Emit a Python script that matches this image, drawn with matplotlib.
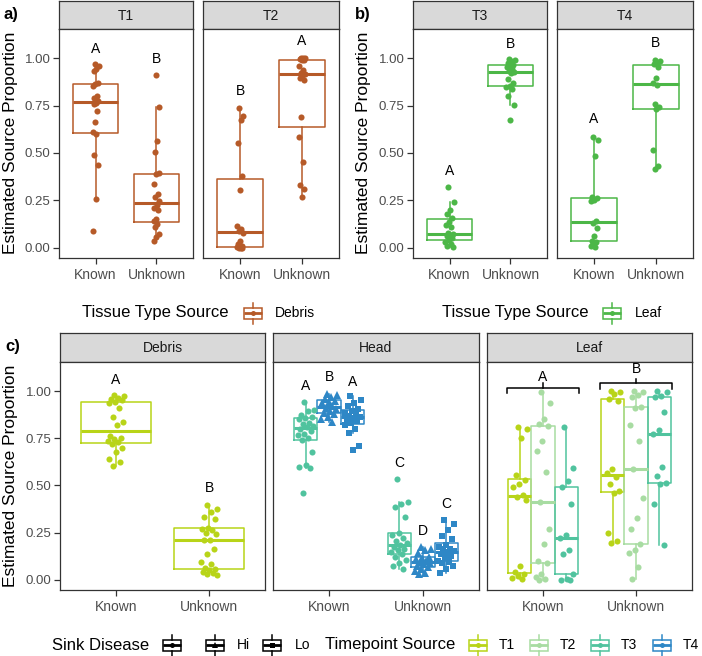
import numpy as np
import matplotlib
matplotlib.use("Agg")
import matplotlib.pyplot as plt
from matplotlib.patches import Rectangle

plt.rcParams['font.family'] = ['Liberation Sans', 'DejaVu Sans']

# ---- data ----
cats = ['Known', 'Unknown']
yticks = [0.0, 0.25, 0.5, 0.75, 1.0]

# a) debris source, T1 / T2
a_t1_known = [0.97, 0.96, 0.945, 0.935, 0.87, 0.865, 0.855, 0.80, 0.79, 0.775, 0.765, 0.76,
              0.72, 0.665, 0.61, 0.60, 0.49, 0.435, 0.255, 0.09]
a_t1_unknown = [0.91, 0.745, 0.565, 0.505, 0.395, 0.39, 0.335, 0.285, 0.265, 0.245, 0.225, 0.21,
                0.20, 0.15, 0.14, 0.125, 0.11, 0.07, 0.058, 0.035]
a_t2_known = [0.735, 0.695, 0.675, 0.55, 0.38, 0.305, 0.115, 0.10, 0.09, 0.075, 0.035, 0.02,
              0.01, 0.004, 0.002, 0.0, 0.0, 0.0]
a_t2_unknown = [1.0, 1.0, 1.0, 0.998, 0.99, 0.99, 0.96, 0.94, 0.925, 0.915, 0.905, 0.895,
                0.885, 0.69, 0.585, 0.45, 0.33, 0.31, 0.265]

# b) leaf source, T3 / T4
b_t3_known = [0.32, 0.24, 0.20, 0.18, 0.155, 0.135, 0.12, 0.11, 0.078, 0.07, 0.065, 0.06,
              0.05, 0.038, 0.03, 0.02, 0.01, 0.005]
b_t3_unknown = [0.998, 0.99, 0.985, 0.975, 0.965, 0.96, 0.955, 0.945, 0.935, 0.93, 0.92, 0.89,
                0.87, 0.855, 0.85, 0.84, 0.80, 0.755, 0.675]
b_t4_known = [0.585, 0.57, 0.485, 0.265, 0.26, 0.25, 0.245, 0.14, 0.13, 0.105, 0.06, 0.035,
              0.03, 0.02, 0.01, 0.005]
b_t4_unknown = [0.99, 0.985, 0.975, 0.97, 0.955, 0.895, 0.87, 0.86, 0.76, 0.745, 0.73, 0.515,
                0.43, 0.415]

# c) sink tissue panels
debris_known_t1 = [0.98, 0.975, 0.965, 0.96, 0.955, 0.945, 0.935, 0.91, 0.865, 0.835, 0.82, 0.76,
                   0.75, 0.745, 0.735, 0.73, 0.72, 0.70, 0.68, 0.64, 0.625, 0.605]
debris_unknown_t1 = [0.395, 0.375, 0.36, 0.33, 0.32, 0.275, 0.27, 0.265, 0.25, 0.24, 0.212, 0.21,
                     0.165, 0.135, 0.095, 0.085, 0.06, 0.055, 0.05, 0.04, 0.035, 0.03, 0.025]
head_known_t3 = [0.945, 0.90, 0.895, 0.875, 0.865, 0.86, 0.85, 0.83, 0.825, 0.815, 0.81, 0.80,
                 0.79, 0.775, 0.765, 0.75, 0.74, 0.675, 0.61, 0.60, 0.59, 0.46]
head_known_t4_hi = [0.985, 0.98, 0.97, 0.96, 0.95, 0.945, 0.935, 0.92, 0.91, 0.905, 0.895, 0.885,
                    0.88, 0.865, 0.85, 0.835]
head_known_t4_lo = [0.975, 0.955, 0.94, 0.92, 0.905, 0.895, 0.885, 0.875, 0.87, 0.865, 0.86, 0.85,
                    0.84, 0.83, 0.82, 0.80, 0.78, 0.71, 0.69]
head_unknown_t3 = [0.535, 0.41, 0.40, 0.385, 0.335, 0.25, 0.235, 0.22, 0.205, 0.195, 0.185, 0.175,
                   0.165, 0.155, 0.145, 0.135, 0.12, 0.105, 0.09, 0.07, 0.055]
head_unknown_t4_hi = [0.175, 0.16, 0.155, 0.14, 0.12, 0.115, 0.11, 0.10, 0.095, 0.09, 0.085, 0.075,
                      0.065, 0.055, 0.045, 0.035, 0.03]
head_unknown_t4_lo = [0.315, 0.295, 0.265, 0.23, 0.215, 0.185, 0.175, 0.165, 0.16, 0.15, 0.145,
                      0.135, 0.125, 0.115, 0.10, 0.095, 0.09, 0.075, 0.055, 0.035]
leaf_known_t1 = [0.81, 0.80, 0.75, 0.555, 0.53, 0.505, 0.49, 0.45, 0.44, 0.42, 0.075, 0.04, 0.03,
                 0.02, 0.01, 0.005]
leaf_known_t2 = [0.995, 0.94, 0.855, 0.825, 0.815, 0.735, 0.685, 0.57, 0.41, 0.27, 0.19, 0.10,
                 0.09, 0.03, 0.015, 0.005, 0.0]
leaf_known_t3 = [0.81, 0.595, 0.525, 0.49, 0.40, 0.235, 0.22, 0.155, 0.135, 0.03, 0.005, 0.0, 0.0]
leaf_unknown_t1 = [1.0, 0.995, 0.985, 0.96, 0.95, 0.585, 0.565, 0.545, 0.505, 0.47, 0.46, 0.25,
                   0.205, 0.195]
leaf_unknown_t2 = [1.0, 0.995, 0.98, 0.97, 0.915, 0.91, 0.82, 0.735, 0.585, 0.435, 0.325, 0.27,
                   0.19, 0.155, 0.14, 0.065, 0.005]
leaf_unknown_t3 = [1.0, 0.995, 0.975, 0.97, 0.89, 0.795, 0.775, 0.60, 0.55, 0.515, 0.505, 0.40,
                   0.185]

# significance letters: (x, y, letter)
letters_t1 = [(1, 1.048, 'A'), (2, 0.998, 'B')]
letters_t2 = [(1, 0.827, 'B'), (2, 1.09, 'A')]
letters_t3 = [(1, 0.405, 'A'), (2, 1.077, 'B')]
letters_t4 = [(1, 0.678, 'A'), (2, 1.083, 'B')]
letters_debris = [(1, 1.06, 'A'), (2, 0.485, 'B')]
letters_head = [(0.75, 1.03, 'A'), (1, 1.076, 'B'), (1.25, 1.048, 'A'),
                (1.75, 0.617, 'C'), (2, 0.26, 'D'), (2.25, 0.40, 'C')]
letters_leaf = [(1, 1.078, 'A'), (2, 1.12, 'B')]

C_DEBRIS = '#B65A28'
C_LEAF = '#4CB747'
C_T = {'T1': '#B8D418', 'T2': '#A8DCA2', 'T3': '#50C39E', 'T4': '#2E87C6'}
C_BORDER = '#333333'

W, H = 702, 656
fig = plt.figure(figsize=(W / 100, H / 100), dpi=100)


def px_axes(l, t, r, b):
    return fig.add_axes([l / W, 1 - b / H, (r - l) / W, (b - t) / H])


def ftext(x, y, s, **kw):
    fig.text(x / W, 1 - y / H, s, **kw)


def panel(l, t, r, b, strip_top, title, left_ticks):
    st = px_axes(l, strip_top, r, t)
    st.set_facecolor('#D9D9D9')
    st.set_xticks([])
    st.set_yticks([])
    for s in st.spines.values():
        s.set_color(C_BORDER)
        s.set_linewidth(0.9)
    st.text(0.5, 0.47, title, ha='center', va='center', fontsize=10, color='#1A1A1A',
            transform=st.transAxes)
    ax = px_axes(l, t, r, b)
    ax.set_xlim(0.4, 2.6)
    ax.set_ylim(-0.055, 1.155)
    ax.set_xticks([1, 2])
    ax.set_xticklabels(cats)
    ax.set_yticks(yticks)
    ax.set_yticklabels(['%.2f' % v for v in yticks])
    for s in ax.spines.values():
        s.set_color(C_BORDER)
        s.set_linewidth(0.9)
    ax.tick_params(length=4, width=0.9, color=C_BORDER, labelcolor='#4D4D4D',
                   labelsize=9.5, pad=2)
    ax.tick_params(axis='x', labelsize=10, pad=3.5)
    if not left_ticks:
        ax.tick_params(axis='y', left=False, labelleft=False)
    return ax


def draw_box(ax, vals, pos, width, color, marker='o', ms=4.4, jit=0.06, seed=0.37):
    ax.boxplot([vals], positions=[pos], widths=width, showfliers=False, showcaps=False,
               manage_ticks=False,
               boxprops=dict(color=color, lw=1.1),
               whiskerprops=dict(color=color, lw=1.1),
               medianprops=dict(color=color, lw=2.2, solid_capstyle='butt'))
    v = np.asarray(vals)
    k = np.arange(len(v))
    off = ((k * 0.6180339887 + seed) % 1.0 - 0.5) * 2 * jit
    ax.plot(pos + off, v, ls='none', marker=marker, ms=ms, color=color, mew=0, zorder=3)


def put_letters(ax, items):
    for x, y, s in items:
        ax.text(x, y, s, ha='center', va='center', fontsize=10, color='black')


# ---- a) ----
ax = panel(59, 29, 193, 258, 1, 'T1', True)
draw_box(ax, a_t1_known, 1, 0.75, C_DEBRIS, jit=0.05)
draw_box(ax, a_t1_unknown, 2, 0.75, C_DEBRIS, jit=0.05)
put_letters(ax, letters_t1)
ax = panel(203, 29, 339, 258, 1, 'T2', False)
draw_box(ax, a_t2_known, 1, 0.75, C_DEBRIS, jit=0.05)
draw_box(ax, a_t2_unknown, 2, 0.75, C_DEBRIS, jit=0.05)
put_letters(ax, letters_t2)

# ---- b) ----
ax = panel(413, 29, 547, 258, 1, 'T3', True)
draw_box(ax, b_t3_known, 1, 0.75, C_LEAF, jit=0.07)
draw_box(ax, b_t3_unknown, 2, 0.75, C_LEAF, jit=0.07)
put_letters(ax, letters_t3)
ax = panel(557, 29, 693, 258, 1, 'T4', False)
draw_box(ax, b_t4_known, 1, 0.75, C_LEAF, jit=0.06)
draw_box(ax, b_t4_unknown, 2, 0.75, C_LEAF, jit=0.06)
put_letters(ax, letters_t4)

# ---- c) ----
ax = panel(60, 362, 265, 590, 333, 'Debris', True)
draw_box(ax, debris_known_t1, 1, 0.75, C_T['T1'], jit=0.09)
draw_box(ax, debris_unknown_t1, 2, 0.75, C_T['T1'], jit=0.09)
put_letters(ax, letters_debris)

ax = panel(273, 362, 479, 590, 333, 'Head', False)
draw_box(ax, head_known_t3, 0.75, 0.25, C_T['T3'], jit=0.09)
draw_box(ax, head_known_t4_hi, 1.0, 0.25, C_T['T4'], marker='^', ms=5.4, jit=0.09)
draw_box(ax, head_known_t4_lo, 1.25, 0.25, C_T['T4'], marker='s', ms=4.2, jit=0.09)
draw_box(ax, head_unknown_t3, 1.75, 0.25, C_T['T3'], jit=0.09)
draw_box(ax, head_unknown_t4_hi, 2.0, 0.25, C_T['T4'], marker='^', ms=5.4, jit=0.09)
draw_box(ax, head_unknown_t4_lo, 2.25, 0.25, C_T['T4'], marker='s', ms=4.2, jit=0.09)
put_letters(ax, letters_head)

ax = panel(487, 362, 692, 590, 333, 'Leaf', False)
for pos, vals, key in [(0.75, leaf_known_t1, 'T1'), (1.0, leaf_known_t2, 'T2'),
                       (1.25, leaf_known_t3, 'T3'), (1.75, leaf_unknown_t1, 'T1'),
                       (2.0, leaf_unknown_t2, 'T2'), (2.25, leaf_unknown_t3, 'T3')]:
    draw_box(ax, vals, pos, 0.25, C_T[key], jit=0.08)
# brackets over each group
for xc, yb in [(1, 1.018), (2, 1.041)]:
    ax.plot([xc - 0.39, xc - 0.39, xc + 0.39, xc + 0.39], [yb - 0.027, yb, yb, yb - 0.027],
            color='black', lw=1.1, clip_on=False)
    ax.plot([xc, xc], [yb, yb + 0.024], color='black', lw=1.1)
put_letters(ax, letters_leaf)

# ---- titles / panel tags ----
for xl, yl in [(11, 143), (363, 143), (11, 476)]:
    ftext(xl, yl, 'Estimated Source Proportion', rotation=90, ha='center', va='center',
          fontsize=12.5, color='black')
ftext(3, 14, 'a)', fontsize=12, fontweight='bold', va='center')
ftext(355, 14, 'b)', fontsize=12, fontweight='bold', va='center')
ftext(5, 347, 'c)', fontsize=12, fontweight='bold', va='center')

# ---- legends ----
ov = fig.add_axes([0, 0, 1, 1])
ov.set_xlim(0, W)
ov.set_ylim(H, 0)
ov.axis('off')


def glyph(cx, cy, color, marker='o', ms=3.6):
    bw, bh, wh = 18, 11, 5
    ov.add_patch(Rectangle((cx - bw / 2, cy - bh / 2), bw, bh, fill=False, ec=color, lw=1.1))
    ov.plot([cx, cx], [cy - bh / 2 - wh, cy - bh / 2], color=color, lw=1.1)
    ov.plot([cx, cx], [cy + bh / 2, cy + bh / 2 + wh], color=color, lw=1.1)
    ov.plot([cx - bw / 2, cx + bw / 2], [cy, cy], color=color, lw=2.0, solid_capstyle='butt')
    ov.plot([cx], [cy], marker=marker, ms=ms, color=color, mew=0)


ov.text(82, 313, 'Tissue Type Source', fontsize=12, va='center', ha='left')
glyph(253, 313, C_DEBRIS)
ov.text(275, 313, 'Debris', fontsize=10, va='center', ha='left')

ov.text(442, 313, 'Tissue Type Source', fontsize=12, va='center', ha='left')
glyph(612, 313, C_LEAF)
ov.text(635, 313, 'Leaf', fontsize=10, va='center', ha='left')

ov.text(52, 645, 'Sink Disease', fontsize=12, va='center', ha='left')
glyph(172, 645, 'black', 'o')
glyph(215, 645, 'black', '^', 4.2)
ov.text(237, 645, 'Hi', fontsize=10, va='center', ha='left')
glyph(272, 645, 'black', 's', 3.6)
ov.text(295, 645, 'Lo', fontsize=10, va='center', ha='left')
ov.text(325, 645, 'Timepoint Source', fontsize=12, va='center', ha='left')
for cx, key in [(478, 'T1'), (539, 'T2'), (600, 'T3'), (662, 'T4')]:
    glyph(cx, 645, C_T[key])
    ov.text(cx + 21, 645, key, fontsize=10, va='center', ha='left')

fig.savefig('out.png', dpi=100)
